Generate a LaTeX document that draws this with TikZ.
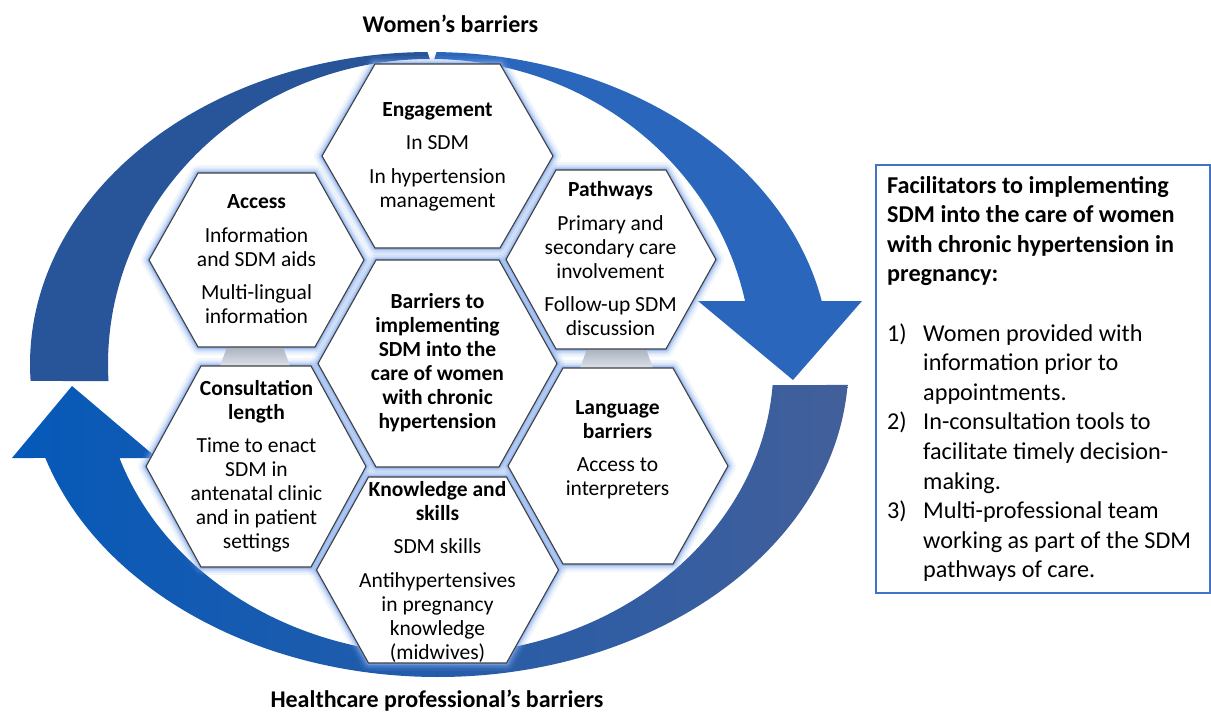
\documentclass[tikz,border=0pt]{standalone}
\usepackage{fontspec}
\setmainfont{Carlito}
\usetikzlibrary{calc}

\definecolor{arcdark}{HTML}{28559A}
\definecolor{arcbright}{HTML}{2A67BC}
\definecolor{arcleft}{HTML}{0559B9}
\definecolor{arcmid}{HTML}{2359A8}
\definecolor{arcright}{HTML}{425F9A}
\definecolor{glowblue}{HTML}{7FA8EE}
\definecolor{hexline}{HTML}{404040}
\definecolor{framecol}{HTML}{4472C4}
\definecolor{linkgray}{HTML}{A9B2C0}
\definecolor{linklight}{HTML}{DDE2EA}

% flat-topped hexagon: centre (#1,#2), half width #3, slant inset #4, half height #5
\newcommand\hexpath[5]{({#1-#3},{#2}) -- ({#1-#3+#4},{#2-#5}) -- ({#1+#3-#4},{#2-#5}) -- ({#1+#3},{#2}) -- ({#1+#3-#4},{#2+#5}) -- ({#1-#3+#4},{#2+#5}) -- cycle}

\tikzset{
  hexfill/.style={fill=white, draw=hexline, line width=1.1pt, line join=miter},
  hexglow/.style={draw=glowblue, line join=round},
  hextext/.style={align=center, font=\fontsize{21.5}{24}\selectfont, inner sep=0pt},
  boxtext/.style={anchor=base west, font=\fontsize{24.2}{29.6}\selectfont, inner sep=0pt},
  barlabel/.style={anchor=base, font=\fontsize{24}{28}\selectfont\bfseries, inner sep=0pt},
  linkbar/.style={top color=linkgray, bottom color=linklight}
}

\begin{document}
\begin{tikzpicture}[x=1pt, y=-1pt]
\fill[white] (0,0) rectangle (1211,712);
\useasboundingbox (0,0) rectangle (1211,712);

% ---- upper circular arrow (women's barriers) ----
\coordinate (tc) at (430,364);
\fill[arcdark] ($(tc)+(176.88:400 and 312)$)
  arc[start angle=176.88, end angle=270, x radius=400, y radius=312]
  -- ($(tc)+(270:322 and 305)$)
  arc[start angle=270, end angle=176.8, x radius=322, y radius=305] -- cycle;
\coordinate (headA1) at (862,301);
\coordinate (tipA) at (793,380);
\coordinate (headA2) at (698,301);
\fill[arcbright] ($(tc)+(270:400 and 312)$)
  arc[start angle=270, end angle=348.35, x radius=400, y radius=312]
  -- (headA1) -- (tipA) -- (headA2)
  -- ($(tc)+(348.08:322 and 305)$)
  arc[start angle=348.08, end angle=270, x radius=322, y radius=305] -- cycle;
\fill[white] (427,50) -- (437,50) -- (432,66) -- cycle;

% ---- lower circular arrow (healthcare professional's barriers) ----
\coordinate (bc) at (437.5,364.5);
\coordinate (headB1) at (12,458);
\coordinate (tipB) at (72,386);
\coordinate (headB2) at (157,458);
\shade[left color=arcleft, middle color=arcmid, right color=arcright]
  ($(bc)+(3.761:411 and 312.5)$)
  arc[start angle=3.761, end angle=162.59, x radius=411, y radius=312.5]
  -- (headB1) -- (tipB) -- (headB2)
  -- ($(bc)+(161.19:336 and 290)$)
  arc[start angle=161.19, end angle=4.054, x radius=336, y radius=290] -- cycle;

% ---- hexagon cluster ----
\def\hexlist{437.5/156/115.5/53/92, 256.5/260/107.5/49/87, 611/259.5/105/50/89.5,
  437.5/363.5/119.5/58/103.5, 256/466.5/110/55/100.5, 618/466/110/55/98, 437.5/570/121/52/93}
\foreach \cx/\cy/\w/\a/\h in \hexlist {
  \draw[hexglow, line width=16pt, opacity=0.10] \hexpath{\cx}{\cy}{\w}{\a}{\h};
  \draw[hexglow, line width=11pt, opacity=0.18] \hexpath{\cx}{\cy}{\w}{\a}{\h};
  \draw[hexglow, line width=7pt, opacity=0.30] \hexpath{\cx}{\cy}{\w}{\a}{\h};
  \draw[hexglow, line width=3.5pt, opacity=0.55] \hexpath{\cx}{\cy}{\w}{\a}{\h};
}
% grey links between stacked hexagons
\shade[linkbar] (227,347) -- (283,347) -- (290,366) -- (220,366) -- cycle;
\shade[linkbar] (587,349) -- (646,349) -- (653,368) -- (580,368) -- cycle;
\foreach \cx/\cy/\w/\a/\h in \hexlist {
  \path[hexfill] \hexpath{\cx}{\cy}{\w}{\a}{\h};
}

% ---- hexagon texts ----
\node[hextext] (engage) at (437.5,156.5) {\textbf{Engagement}\\[9.5pt]In SDM\\[9.5pt]In hypertension\\management};
\node[hextext] (access) at (256.5,259.5) {\textbf{Access}\\[9.5pt]Information\\and SDM aids\\[9.5pt]Multi-lingual\\information};
\node[hextext] (paths) at (610.5,259) {\textbf{Pathways}\\[9.5pt]Primary and\\secondary care\\involvement\\[9.5pt]Follow-up SDM\\discussion};
\node[hextext, font=\fontsize{21.5}{24}\selectfont\bfseries] (core) at (437.5,363) {Barriers to\\implementing\\SDM into the\\care of women\\with chronic\\hypertension};
\node[hextext] (consult) at (256.5,466.5) {\textbf{Consultation}\\\textbf{length}\\[9.5pt]Time to enact\\SDM in\\antenatal clinic\\and in patient\\settings};
\node[hextext] (lang) at (617.5,450) {\textbf{Language}\\\textbf{barriers}\\[9.5pt]Access to\\interpreters};
\node[hextext] (skills) at (437.5,571.5) {\textbf{Knowledge and}\\\textbf{skills}\\[9.5pt]SDM skills\\[9.5pt]Antihypertensives\\in pregnancy\\knowledge\\(midwives)};

% ---- arrow labels ----
\node[barlabel] (women) at (450.5,32) {Women’s barriers};
\node[barlabel] (hcp) at (437,707) {Healthcare professional’s barriers};

% ---- facilitators box ----
\draw[framecol, line width=1.2pt] (876,165) rectangle (1210,593);
\foreach \txt [count=\i from 0] in {Facilitators to implementing, SDM into the care of women, with chronic hypertension in, pregnancy:} {
  \node[boxtext, font=\fontsize{24.2}{29.6}\selectfont\bfseries] (head\i) at (887,{193+29.6*\i}) {\txt};
}
\foreach \txt [count=\i from 5] in {Women provided with, information prior to, appointments., In-consultation tools to, facilitate timely decision-, making., Multi-professional team, working as part of the SDM, pathways of care.} {
  \node[boxtext] (item\i) at (923,{193+29.6*\i}) {\txt};
}
\node[boxtext] (num1) at (887,{193+29.6*5}) {1)};
\node[boxtext] (num2) at (887,{193+29.6*8}) {2)};
\node[boxtext] (num3) at (887,{193+29.6*11}) {3)};
\end{tikzpicture}
\end{document}
